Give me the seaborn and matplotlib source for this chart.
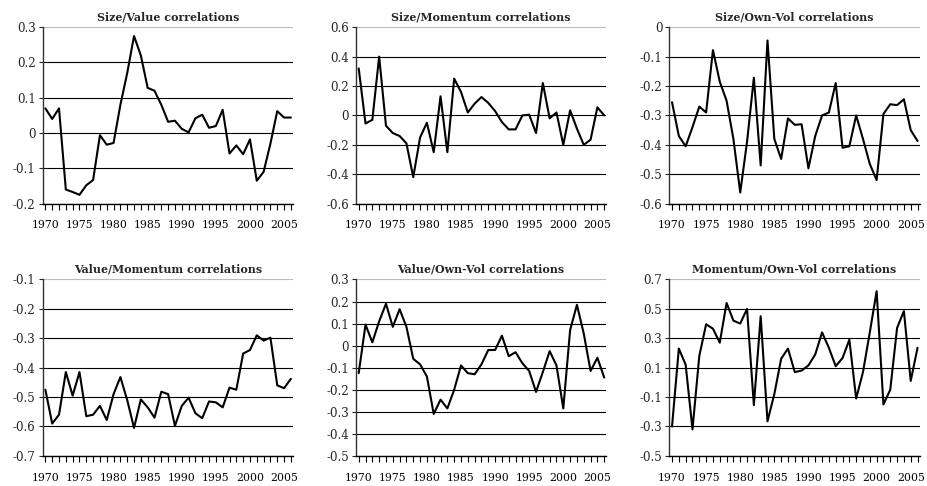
import numpy as np
import pandas as pd
import matplotlib
matplotlib.use('Agg')
import matplotlib.pyplot as plt
import seaborn as sns

# Data, one value per year 1970-2006
years = list(range(1970, 2007))

size_value = [0.07, 0.04, 0.07, -0.16, -0.167, -0.175, -0.148, -0.133, -0.006, -0.033,
              -0.028, 0.08, 0.17, 0.275, 0.22, 0.128, 0.12, 0.08, 0.032, 0.035,
              0.012, 0.002, 0.042, 0.052, 0.015, 0.02, 0.066, -0.058, -0.035, -0.06,
              -0.018, -0.135, -0.11, -0.03, 0.062, 0.044, 0.044]

size_momentum = [0.32, -0.055, -0.03, 0.40, -0.07, -0.12, -0.14, -0.19, -0.42, -0.15,
                 -0.05, -0.25, 0.13, -0.25, 0.25, 0.16, 0.02, 0.08, 0.125, 0.085,
                 0.03, -0.045, -0.095, -0.095, 0.0, 0.005, -0.12, 0.22, -0.02, 0.02,
                 -0.2, 0.035, -0.09, -0.2, -0.165, 0.055, 0.0]

size_ownvol = [-0.255, -0.37, -0.405, -0.34, -0.27, -0.29, -0.078, -0.185, -0.25, -0.38,
               -0.562, -0.39, -0.172, -0.47, -0.045, -0.38, -0.448, -0.31, -0.332, -0.33,
               -0.48, -0.37, -0.30, -0.29, -0.19, -0.41, -0.405, -0.30, -0.38, -0.465,
               -0.52, -0.295, -0.262, -0.265, -0.245, -0.35, -0.387]

value_momentum = [-0.475, -0.59, -0.56, -0.415, -0.495, -0.415, -0.565, -0.56, -0.53, -0.578,
                  -0.49, -0.432, -0.51, -0.605, -0.508, -0.535, -0.57, -0.482, -0.49, -0.598,
                  -0.53, -0.502, -0.555, -0.572, -0.515, -0.518, -0.535, -0.468, -0.475, -0.352,
                  -0.34, -0.29, -0.308, -0.298, -0.46, -0.47, -0.438]

value_ownvol = [-0.125, 0.095, 0.015, 0.11, 0.19, 0.085, 0.165, 0.085, -0.06, -0.085,
                -0.14, -0.31, -0.245, -0.285, -0.2, -0.09, -0.125, -0.13, -0.085, -0.02,
                -0.02, 0.045, -0.048, -0.03, -0.08, -0.115, -0.21, -0.12, -0.025, -0.09,
                -0.285, 0.07, 0.185, 0.055, -0.115, -0.055, -0.145]

momentum_ownvol = [-0.3, 0.23, 0.12, -0.32, 0.18, 0.395, 0.365, 0.27, 0.54, 0.42,
                   0.40, 0.50, -0.155, 0.45, -0.265, -0.08, 0.16, 0.23, 0.07, 0.08,
                   0.115, 0.19, 0.34, 0.235, 0.11, 0.165, 0.29, -0.11, 0.07, 0.34,
                   0.62, -0.15, -0.05, 0.37, 0.485, 0.01, 0.235]

titles = ['Size/Value correlations', 'Size/Momentum correlations', 'Size/Own-Vol correlations',
          'Value/Momentum correlations', 'Value/Own-Vol correlations', 'Momentum/Own-Vol correlations']
series = [size_value, size_momentum, size_ownvol, value_momentum, value_ownvol, momentum_ownvol]
yticks = [[-0.2, -0.1, 0, 0.1, 0.2, 0.3],
          [-0.6, -0.4, -0.2, 0, 0.2, 0.4, 0.6],
          [-0.6, -0.5, -0.4, -0.3, -0.2, -0.1, 0],
          [-0.7, -0.6, -0.5, -0.4, -0.3, -0.2, -0.1],
          [-0.5, -0.4, -0.3, -0.2, -0.1, 0, 0.1, 0.2, 0.3],
          [-0.5, -0.3, -0.1, 0.1, 0.3, 0.5, 0.7]]
xlabels = [1970, 1975, 1980, 1985, 1990, 1995, 2000, 2005]

sns.set_style('white')
plt.rcParams['font.family'] = ['DejaVu Serif']
plt.rcParams['axes.unicode_minus'] = False

fig = plt.figure(figsize=(9.27, 4.86), dpi=100)

# axes boxes in figure fractions
lefts = [0.046, 0.384, 0.722]
width = 0.270
bottoms = [0.581, 0.062]
height = 0.363

for i, (title, vals, yt) in enumerate(zip(titles, series, yticks)):
    ax = fig.add_axes([lefts[i % 3], bottoms[i // 3], width, height])
    df = pd.DataFrame({'year': years, 'corr': vals})
    sns.lineplot(data=df, x='year', y='corr', ax=ax, color='black', linewidth=1.5)

    ax.set_xlim(1969.6, 2006.3)
    ax.set_ylim(yt[0], yt[-1])
    ax.set_yticks(yt)
    ax.set_yticklabels(['{:g}'.format(round(v, 1)) for v in yt])
    ax.set_xticks(xlabels)
    ax.set_xticklabels([str(y) for y in xlabels])
    ax.set_xticks(years, minor=True)
    ax.tick_params(axis='x', which='both', direction='out', length=4, width=0.8,
                   colors='black', labelsize=7.8, pad=8, bottom=True)
    ax.tick_params(axis='y', direction='out', length=3, width=0.8, labelsize=8.6,
                   pad=2, left=True)
    ax.set_xlabel('')
    ax.set_ylabel('')

    ax.yaxis.grid(True, color='black', linewidth=0.8)
    ax.xaxis.grid(False)
    ax.get_ygridlines()[-1].set_color('#bbbbbb')
    ax.set_axisbelow(True)

    for s in ['top', 'right']:
        ax.spines[s].set_visible(False)
    ax.spines['left'].set_color('#333333')
    ax.spines['left'].set_linewidth(1.0)
    ax.spines['bottom'].set_color('black')
    ax.spines['bottom'].set_linewidth(1.0)

    ax.set_title(title, fontsize=7.9, fontweight='bold', pad=5)

fig.savefig('out.png', dpi=100)
